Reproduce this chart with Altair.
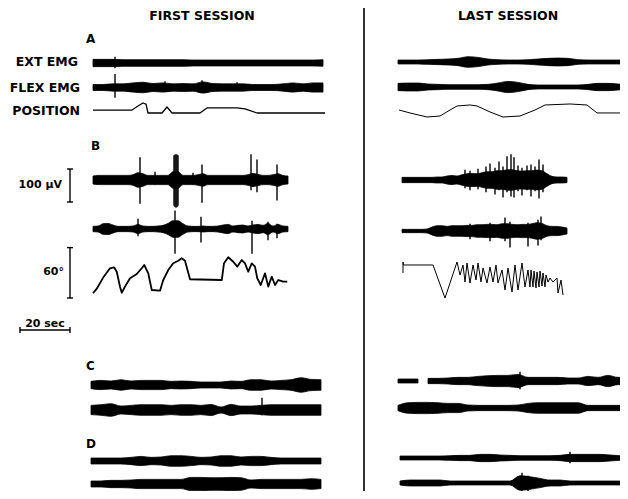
import altair as alt
import pandas as pd

# ---------------- scales of the figure ----------------
PX_PER_SEC = 2.5      # 20 sec bar
PX_PER_UV = 0.33      # 100 uV bar
PX_PER_DEG = 0.84     # 60 deg bar
SCALE_SEC, SCALE_UV, SCALE_DEG = 20, 100, 60

# ---------------- EMG envelopes (half amplitude, uV) ----------------
# panels A, C, D sampled every 4 s ; panel B every 2 s
A1_EXT = [11, 11, 11, 10, 10, 10, 10, 10, 10, 10, 9, 9, 9, 9, 9, 9, 9, 9, 9, 9, 9, 9, 9, 10]
A1_FLEX = [9, 9, 11, 11, 14, 16, 12, 14, 11, 12, 11, 17, 12, 11, 11, 11, 9, 9, 9, 11, 14, 11, 14, 14]
A2_EXT = [6, 6, 6, 7, 8, 9, 11, 16, 14, 9, 7, 6, 6, 7, 9, 11, 12, 11, 7, 6, 6, 6, 6, 6]
A2_FLEX = [11, 12, 12, 9, 8, 7, 7, 7, 7, 8, 12, 17, 14, 8, 6, 6, 6, 6, 6, 8, 11, 11, 9, 8]

B1_EXT = [12, 14, 14, 14, 14, 14, 14, 14, 16, 22, 19, 14, 14, 14, 14, 14, 25, 25, 14, 14,
          14, 16, 19, 14, 14, 14, 14, 14, 14, 14, 14, 16, 20, 17, 14, 14, 16, 19, 14, 12]
B1_FLEX = [8, 9, 16, 17, 12, 8, 8, 8, 9, 14, 9, 8, 8, 9, 11, 17, 25, 25, 16, 9,
           8, 8, 9, 8, 8, 9, 12, 14, 9, 11, 12, 9, 12, 14, 11, 17, 9, 14, 9, 8]
B2_EXT = [8, 8, 8, 8, 8, 8, 8, 9, 9, 12, 14, 12, 16, 19, 20, 19, 22, 25, 25, 28,
          28, 31, 31, 28, 27, 28, 28, 30, 28, 19, 11, 9, 9, 8]
B2_FLEX = [5, 5, 5, 5, 5, 6, 12, 16, 16, 14, 16, 16, 16, 17, 17, 19, 19, 20, 20, 19,
           22, 22, 20, 19, 20, 20, 22, 25, 23, 16, 14, 14, 12, 9]

C1_TOP = [11, 14, 12, 16, 12, 14, 14, 14, 11, 12, 11, 9, 9, 9, 12, 11, 16, 16, 12, 14, 16, 22, 17, 16]
C1_BOT = [14, 16, 19, 12, 14, 16, 16, 16, 14, 16, 16, 14, 17, 9, 17, 12, 12, 14, 16, 16, 16, 16, 16, 16]
D1_TOP = [9, 9, 9, 9, 11, 14, 11, 12, 16, 16, 14, 11, 12, 16, 16, 12, 14, 14, 11, 9, 9, 9, 9, 9]
D1_BOT = [9, 9, 11, 11, 12, 14, 14, 14, 14, 14, 20, 20, 19, 19, 20, 19, 12, 14, 14, 14, 14, 14, 16, 14]
C2_TOP_A = [6, 6, 6]
C2_TOP_B = [8, 8, 9, 11, 11, 14, 16, 17, 17, 20, 11, 11, 11, 11, 9, 9, 14, 11, 17, 11, 11]
C2_BOT = [8, 16, 17, 17, 16, 14, 14, 9, 8, 8, 8, 8, 9, 14, 16, 16, 16, 16, 16, 8, 8, 8, 8, 8]
D2_TOP = [6, 6, 6, 6, 6, 7, 8, 8, 11, 11, 9, 8, 7, 7, 7, 7, 8, 11, 11, 11, 11, 9, 7, 6]
D2_BOT = [6, 9, 9, 9, 9, 6, 6, 6, 6, 6, 6, 6, 22, 19, 14, 9, 9, 6, 6, 6, 6, 6, 6, 6]

# ---------------- EMG spikes: time (s), up (uV), down (uV) ----------------
A1_EXT_SPK = ([8.8], [19], [16])
A1_FLEX_SPK = ([8.8, 28.8, 43.6, 57.6, 80.8], [41, 19, 22, 16, 12], [31, 12, 12, 9, 9])
B1_EXT_SPK = ([18.8, 24.8, 32.4, 32.8, 33.2, 33.6, 34.0, 40.0, 43.6, 63.2, 65.6, 73.6],
              [69, 25, 75, 77, 78, 77, 75, 22, 47, 78, 62, 47],
              [72, 14, 78, 82, 84, 82, 78, 14, 69, 31, 37, 62])
B1_FLEX_SPK = ([18, 32.8, 43.2, 63.6, 70, 73.6], [31, 56, 37, 25, 22, 16], [22, 75, 41, 75, 34, 28])
B2_EXT_SPK = ([25.2, 27.2, 30.4, 33.6, 35.2, 37.2, 38.8, 40.4, 42, 43.6, 44.8, 46.4, 48, 50, 51.6, 53.2, 54.8, 56.4],
              [31, 28, 34, 41, 50, 37, 56, 41, 72, 78, 69, 44, 37, 44, 47, 41, 62, 47],
              [25, 31, 28, 37, 25, 44, 31, 53, 37, 50, 53, 34, 47, 31, 50, 34, 56, 37])
B2_FLEX_SPK = ([27.2, 35.2, 41.2, 43.2, 50.4, 54.4, 55.6], [22, 25, 41, 28, 25, 34, 44], [25, 31, 31, 50, 47, 44, 28])
C1_BOT_SPK = ([68.4], [37], [16])
C2_TOP_B_SPK = ([36.8], [28], [25])
D2_TOP_SPK = ([68], [19], [16])
D2_BOT_SPK = ([48.8, 51.2], [31, 22], [31, 28])

# ---------------- joint position traces: time (s), angle (deg) ----------------
A1_POS_T = [0, 15.6, 18, 20, 21.2, 22, 27.6, 29.6, 31.6, 42.8, 45.6, 57.6, 60.8, 65.6, 92.8]
A1_POS_D = [3.5, 3.5, 8.3, 11.9, 10.7, 0, 0, 7.1, 0, 0, 6, 6, 4.8, 0, 0]
A2_POS_T = [0.4, 4.8, 11.6, 16.8, 20.8, 23.6, 28.8, 31.6, 36.8, 42, 48.8, 54.8, 58.8, 68.8, 75.6, 79.6, 92]
A2_POS_D = [8.3, 4.8, 0, 1.2, 8.3, 13.1, 14.3, 13.1, 6, 0, 1.2, 8.3, 14.3, 15.5, 14.3, 4.8, 4.8]
B1_POS_T = [0, 1.6, 4.3, 6.8, 8.4, 9.5, 10.8, 11.5, 12.8, 14.8, 17.5, 19.5, 20.5, 22.1, 23.5, 26.8,
            28.1, 30.1, 32.1, 34.1, 35.5, 36.8, 38.8, 51.5, 52.4, 54.1, 56.1, 57.7, 59.5, 60.8, 62.1,
            63.5, 64.8, 65.7, 67.1, 68.8, 70.1, 71.5, 72.8, 74.1, 76.1, 77.7]
B1_POS_D = [5.6, 11.5, 25.4, 35.4, 36.5, 31.3, 13.5, 6.3, 13.5, 23.5, 28.6, 35.4, 39.3, 29.4, 9.5, 8.7,
            21.4, 33.3, 41.3, 44.4, 47.3, 44.4, 22.3, 21.4, 41.3, 48.5, 43.2, 37.3, 45.2, 41.3, 31.3,
            41.3, 37.3, 23.5, 15.5, 29.4, 13.5, 25.4, 15.5, 21.4, 19.4, 19.4]
B2_POS_T = [0.4, 0.4, 0.6, 12.4, 17.2, 22, 23.2, 24.4, 25.2, 26, 27.2, 28.4, 29.6, 30.4, 31.6, 32.4,
            34, 35.2, 36.4, 37.6, 38.4, 40, 41.2, 42.4, 44, 45.2, 46.4, 48, 49.2, 50.4, 51.2, 51.6,
            52.4, 52.8, 53.6, 54, 54.8, 55.2, 56, 56.4, 57.2, 57.6, 58.4, 59.2, 60.4, 62, 62.4, 63.6, 64.4]
B2_POS_D = [29.8, 42.9, 39.3, 39.3, 0, 42.9, 27.4, 39.3, 19, 41.7, 17.9, 39.3, 21.4, 41.7, 19, 35.7,
            17.9, 36.9, 19, 39.3, 17.9, 33.3, 9.5, 35.7, 7.1, 39.3, 9.5, 41.7, 13.1, 33.3, 13.1, 33.3,
            13.1, 32.1, 11.9, 31, 13.1, 32.1, 14.3, 29.8, 13.1, 27.4, 19, 23.8, 19, 23.8, 6, 21.4, 3.6]

# ---------------- layout of the traces (page pixels) ----------------
EMG = [
    ("A1_EXT", A1_EXT, 4, 93, 63, A1_EXT_SPK),
    ("A1_FLEX", A1_FLEX, 4, 93, 87.5, A1_FLEX_SPK),
    ("A2_EXT", A2_EXT, 4, 398, 62, None),
    ("A2_FLEX", A2_FLEX, 4, 398, 87, None),
    ("B1_EXT", B1_EXT, 2, 93, 180, B1_EXT_SPK),
    ("B1_FLEX", B1_FLEX, 2, 93, 229, B1_FLEX_SPK),
    ("B2_EXT", B2_EXT, 2, 402, 180, B2_EXT_SPK),
    ("B2_FLEX", B2_FLEX, 2, 402, 231, B2_FLEX_SPK),
    ("C1_TOP", C1_TOP, 4, 91, 385, None),
    ("C1_BOT", C1_BOT, 4, 91, 410, C1_BOT_SPK),
    ("D1_TOP", D1_TOP, 4, 91, 461, None),
    ("D1_BOT", D1_BOT, 4, 91, 484, None),
    ("C2_TOP_A", C2_TOP_A, 4, 398, 381, None),
    ("C2_TOP_B", C2_TOP_B, 4, 428, 381, C2_TOP_B_SPK),
    ("C2_BOT", C2_BOT, 4, 398, 408, None),
    ("D2_TOP", D2_TOP, 4, 400, 458, D2_TOP_SPK),
    ("D2_BOT", D2_BOT, 4, 400, 483, D2_BOT_SPK),
]
POS = [
    ("A1_POS", A1_POS_T, A1_POS_D, 93, 113, 1.3),
    ("A2_POS", A2_POS_T, A2_POS_D, 398, 117, 1.0),
    ("B1_POS", B1_POS_T, B1_POS_D, 93, 298, 1.8),
    ("B2_POS", B2_POS_T, B2_POS_D, 402, 298, 1.0),
]

env_rows, spk_rows, pos_rows = [], [], []
for name, vals, dt, x0, y0, spk in EMG:
    for i, v in enumerate(vals):
        x = x0 + i * dt * PX_PER_SEC
        env_rows.append({"trace": name, "x": x, "yt": y0 - v * PX_PER_UV, "yb": y0 + v * PX_PER_UV})
    if spk:
        for t, up, dn in zip(*spk):
            spk_rows.append({"x": x0 + t * PX_PER_SEC, "yt": y0 - up * PX_PER_UV, "yb": y0 + dn * PX_PER_UV})
for name, ts, ds, x0, y0, w in POS:
    for i, (t, d) in enumerate(zip(ts, ds)):
        pos_rows.append({"trace": name, "i": i, "x": x0 + t * PX_PER_SEC, "y": y0 - d * PX_PER_DEG, "w": w})

env = pd.DataFrame(env_rows)
spk = pd.DataFrame(spk_rows)
pos = pd.DataFrame(pos_rows)

uv_len = SCALE_UV * PX_PER_UV
deg_len = SCALE_DEG * PX_PER_DEG
sec_len = SCALE_SEC * PX_PER_SEC
bars = pd.DataFrame([
    {"x": 364, "x2": 364, "y": 6, "y2": 499, "w": 1.6},
    {"x": 70, "x2": 70, "y": 202 - uv_len, "y2": 202, "w": 1.4},
    {"x": 67, "x2": 73, "y": 202 - uv_len, "y2": 202 - uv_len, "w": 1.4},
    {"x": 67, "x2": 73, "y": 202, "y2": 202, "w": 1.4},
    {"x": 70, "x2": 70, "y": 298 - deg_len, "y2": 298, "w": 1.4},
    {"x": 67, "x2": 73, "y": 298 - deg_len, "y2": 298 - deg_len, "w": 1.4},
    {"x": 67, "x2": 73, "y": 298, "y2": 298, "w": 1.4},
    {"x": 20, "x2": 20 + sec_len, "y": 330, "y2": 330, "w": 1.6},
    {"x": 20, "x2": 20, "y": 327, "y2": 333, "w": 1.4},
    {"x": 20 + sec_len, "x2": 20 + sec_len, "y": 327, "y2": 333, "w": 1.4},
])

txt_left = pd.DataFrame([
    {"text": "A", "x": 86, "y": 43}, {"text": "B", "x": 91, "y": 150},
    {"text": "C", "x": 86, "y": 370}, {"text": "D", "x": 86, "y": 448},
])
txt_center = pd.DataFrame([
    {"text": "FIRST SESSION", "x": 202, "y": 20}, {"text": "LAST SESSION", "x": 508, "y": 20},
])
txt_small = pd.DataFrame([
    {"text": "20 sec", "x": 45, "y": 327},
])
txt_right = pd.DataFrame([
    {"text": "EXT EMG", "x": 78, "y": 62}, {"text": "FLEX EMG", "x": 80, "y": 88},
    {"text": "POSITION", "x": 80, "y": 111},
])
txt_scale = pd.DataFrame([
    {"text": "100 μV", "x": 62, "y": 185}, {"text": "60°", "x": 64, "y": 272},
])

XS = alt.Scale(domain=[8, 620], nice=False, zero=False)
YS = alt.Scale(domain=[8, 491], nice=False, zero=False, reverse=True)
FONT = "DejaVu Sans"


def X(f):
    return alt.X(f, type="quantitative", scale=XS, axis=None)


def Y(f):
    return alt.Y(f, type="quantitative", scale=YS, axis=None)


def texts(df, align, baseline, size):
    return alt.Chart(df).mark_text(align=align, baseline=baseline, font=FONT,
                                   fontWeight="bold", fontSize=size).encode(
        x=X("x"), y=Y("y"), text="text:N")


areas = alt.Chart(env).mark_area(color="black", stroke="black", strokeWidth=0.8,
                                 interpolate="monotone", clip=False).encode(
    x=X("x"), y=Y("yt"), y2="yb:Q", detail="trace:N")
spikes = alt.Chart(spk).mark_rule(color="black", strokeWidth=1.4).encode(
    x=X("x"), y=Y("yt"), y2="yb:Q")
lines = alt.Chart(pos).mark_line(color="black", strokeJoin="round").encode(
    x=X("x"), y=Y("y"), detail="trace:N", order="i:Q",
    strokeWidth=alt.StrokeWidth("w:Q", scale=None, legend=None))
rules = alt.Chart(bars).mark_rule(color="black").encode(
    x=X("x"), x2="x2:Q", y=Y("y"), y2="y2:Q",
    strokeWidth=alt.StrokeWidth("w:Q", scale=None, legend=None))

chart = alt.layer(
    areas, spikes, lines, rules,
    texts(txt_left, "left", "alphabetic", 12),
    texts(txt_center, "center", "alphabetic", 12.5),
    texts(txt_small, "center", "alphabetic", 11),
    texts(txt_right, "right", "middle", 12.5),
    texts(txt_scale, "right", "middle", 11),
).properties(
    width=612, height=483,
    padding=0,
    autosize=alt.AutoSizeParams(type="none"),
    background="white",
).configure_view(stroke=None)

chart.save("out.html", embed_options={"renderer": "svg", "actions": False})
